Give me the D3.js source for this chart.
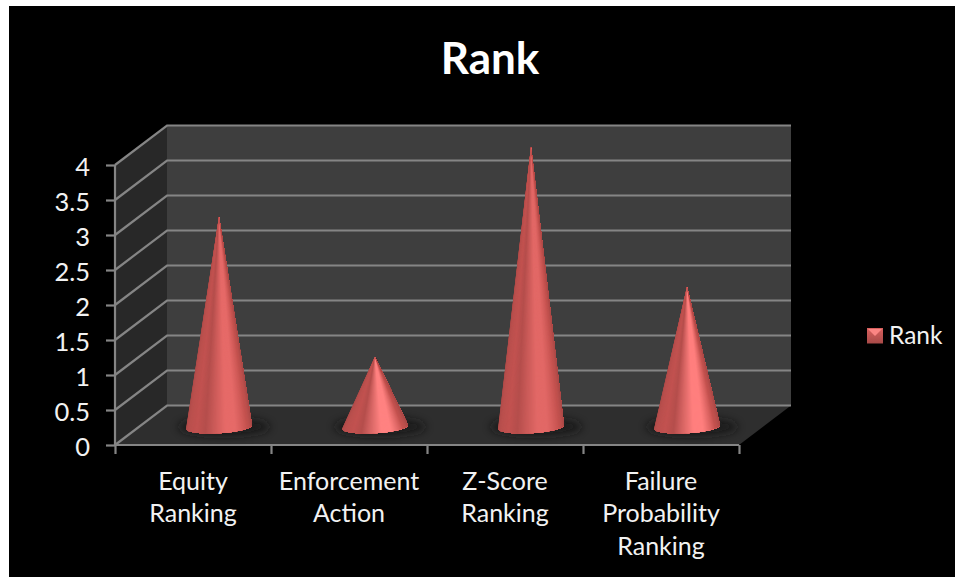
<!DOCTYPE html>
<html>
<head>
<meta charset="utf-8">
<script src="https://cdn.jsdelivr.net/npm/d3@7/dist/d3.min.js"></script>
<style>
html,body{margin:0;padding:0;background:#fff;overflow:hidden}
svg{display:block}
text{font-family:Lato,"Open Sans",sans-serif;fill:#f2f2f2}
</style>
</head>
<body>
<svg id="chart" width="955" height="577"></svg>
<script>
const categories = [["Equity","Ranking"],["Enforcement","Action"],["Z-Score","Ranking"],["Failure","Probability","Ranking"]];
const rankValues = [3, 1, 4, 2];
const valueTicks = [0, 0.5, 1, 1.5, 2, 2.5, 3, 3.5, 4];
const coneHighlights = ["#e66a68", "#ff8281", "#e26866", "#ff7f7e"];

const svg = d3.select("#chart");
const defs = svg.append("defs");

// Frame of the 3D plot: front plane plus the depth offset to the back wall.
const depth = {x: 52, y: -39.5};
const y = d3.scaleLinear().domain([0, 4]).range([445, 165]);
const x = d3.scaleBand().domain(d3.range(categories.length)).range([115, 739]);
const edges = d3.scaleLinear().domain([0, categories.length]).range([115, 739]);

svg.append("rect").attr("x", 9).attr("y", 6).attr("width", 946).attr("height", 571).attr("fill", "#000");

const poly = (pts, fill) => svg.append("polygon").attr("points", pts.map(p => p.join(",")).join(" ")).attr("fill", fill);
const [x0, x1] = x.range();
const y0 = y(0), yTop = y(4);
poly([[x0 + depth.x, y0 + depth.y], [x1 + depth.x, y0 + depth.y], [x1 + depth.x, yTop + depth.y], [x0 + depth.x, yTop + depth.y]], "#3e3e3e");
poly([[x0, y0], [x0 + depth.x, y0 + depth.y], [x0 + depth.x, yTop + depth.y], [x0, yTop]], "#282828");
poly([[x0, y0], [x1, y0], [x1 + depth.x, y0 + depth.y], [x0 + depth.x, y0 + depth.y]], "#2e2e2e");

// Gridlines run along the side wall, then across the back wall.
const gridColor = "#858585";
svg.append("g").selectAll("polyline").data(valueTicks).join("polyline")
  .attr("points", d => `${x0},${y(d)} ${x0 + depth.x},${y(d) + depth.y} ${x1 + depth.x},${y(d) + depth.y}`)
  .attr("fill", "none").attr("stroke", gridColor).attr("stroke-width", 2.2);

// Axes on the front plane.
const axisY = svg.append("g").attr("transform", `translate(${x0},0)`)
  .call(d3.axisLeft(y).tickValues(valueTicks).tickSize(9).tickPadding(16).tickFormat(d3.format("~g")));
const axisX = svg.append("g").attr("transform", `translate(0,${y0})`)
  .call(d3.axisBottom(edges).ticks(categories.length).tickSize(9).tickFormat(""));
[axisY, axisX].forEach(a => {
  a.selectAll("path,line").attr("stroke", gridColor).attr("stroke-width", 2.2);
});
axisY.selectAll("path").attr("d", `M0,${yTop}V${y0}`);
axisX.selectAll("path").attr("d", `M${x0},0H${x1}`);
axisY.selectAll("text").attr("font-size", 25.5).attr("fill", "#f2f2f2")
  .style("font-family", "Lato,sans-serif").attr("dy", "0.42em");

// Category labels, wrapped to several lines.
const catLabels = svg.append("g").selectAll("text").data(categories).join("text")
  .attr("text-anchor", "middle").attr("font-size", 25)
  .attr("transform", (d, i) => `translate(${x(i) + x.bandwidth() / 2},489.5)`);
catLabels.selectAll("tspan").data(d => d).join("tspan")
  .attr("x", 0).attr("y", (d, i) => i * 32.5).text(d => d);

// Cones: a soft contact shadow, then wedges fanned from the apex to the tilted base ellipse.
defs.append("filter").attr("id", "soft").attr("x", "-30%").attr("y", "-100%").attr("width", "160%").attr("height", "300%")
  .append("feGaussianBlur").attr("stdDeviation", 4.5);

const baseOffset = -depth.y / 2 * 0.92;
const rx = 33, ry = 6.4, tilt = -3.5 * Math.PI / 180;
const shade = (hi, u) => {
  const ramp = d3.scaleLinear()
    .domain([0, 0.1, 0.26, 0.36, 0.56, 0.66, 0.82, 1])
    .range(["#a94947", "#b84f4d", "#c25250", "#b54e4c", hi, hi, "#c4524f", "#a54846"])
    .interpolate(d3.interpolateRgb);
  return ramp(u);
};

const cones = svg.append("g").selectAll("g").data(rankValues).join("g")
  .attr("transform", (d, i) => `translate(${x(i) + x.bandwidth() / 2 + depth.x / 2},${y0 - baseOffset})`);

cones.append("ellipse")
  .attr("cx", 5).attr("cy", 0).attr("rx", 46).attr("ry", 9)
  .attr("fill", "#161616").attr("opacity", 0.8).attr("filter", "url(#soft)");

cones.each(function(v, i) {
  const apex = [0, y(v) - y0];
  const n = 80;
  const pts = d3.range(n + 1).map(k => {
    const t = Math.PI * (1 - k / n);
    const ex = rx * Math.cos(t), ey = ry * Math.sin(t);
    return [ex * Math.cos(tilt) - ey * Math.sin(tilt), ex * Math.sin(tilt) + ey * Math.cos(tilt)];
  });
  // Each layer covers everything from wedge k to the right edge, so neighbouring wedges leave no seams.
  d3.select(this).selectAll("path.wedge").data(d3.range(n)).join("path")
    .attr("class", "wedge")
    .attr("d", k => `M${apex}L${pts.slice(k).join("L")}Z`)
    .attr("fill", k => shade(coneHighlights[i], (k + 0.5) / n));
});

// Title and legend.
svg.append("text").attr("x", 490).attr("y", 74).attr("text-anchor", "middle")
  .attr("font-size", 44).attr("font-weight", 700).style("fill", "#fff").text("Rank");

const legend = svg.append("g").attr("transform", "translate(867,328)");
const legendGrad = defs.append("linearGradient").attr("id", "legendFill").attr("x1", 0).attr("x2", 0).attr("y1", 0).attr("y2", 1);
legendGrad.append("stop").attr("offset", 0).attr("stop-color", "#d9605e");
legendGrad.append("stop").attr("offset", 1).attr("stop-color", "#a84a48");
legend.append("rect").attr("width", 16).attr("height", 15.5).attr("fill", "url(#legendFill)");
legend.append("polygon").attr("points", "1,1 15,1 8,8").attr("fill", "#fb8583");
legend.append("text").attr("x", 22).attr("y", 16).attr("font-size", 24.5).text("Rank");
</script>
</body>
</html>
